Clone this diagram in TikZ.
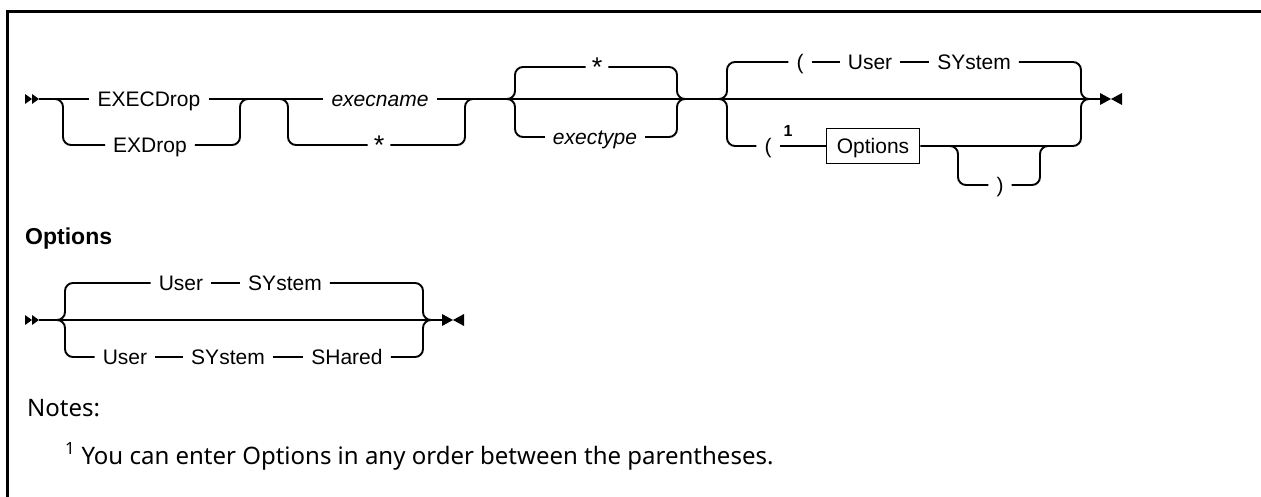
\documentclass[tikz,border=0pt]{standalone}
\usepackage{fontspec}
\setmainfont{Noto Sans}
\newfontfamily\railfont{Liberation Sans}
\usetikzlibrary{positioning}

\begin{document}
\begin{tikzpicture}[
	x=1pt, y=-1pt,
	rail/.style={draw=black, line width=1.9pt, rounded corners=8pt},
	lbl/.style={font=\railfont\fontsize{21}{25}\selectfont, inner xsep=8pt, inner ysep=0pt,
	            text height=15pt, text depth=0pt},
	var/.style={lbl, font=\railfont\itshape\fontsize{21}{25}\selectfont},
	starlbl/.style={lbl, font=\railfont\fontsize{27}{30}\selectfont, inner xsep=6pt, text height=19pt},
	refbox/.style={lbl, draw, line width=1.5pt, inner xsep=10.5pt, minimum height=35pt,
	               text height=19pt, text depth=4pt},
	sup/.style={font=\railfont\bfseries\fontsize{16}{18}\selectfont, inner sep=0pt, anchor=base},
	head/.style={font=\railfont\bfseries\fontsize{23}{28}\selectfont, inner sep=0pt, anchor=base west},
	note/.style={font=\fontsize{24}{29}\selectfont, inner sep=0pt, anchor=base west},
	frame/.style={draw=black, line width=3pt},
	railstart/.pic={\fill (-14,-5) -- (-7,0) -- (-14,5) -- cycle (-7,-5) -- (0,0) -- (-7,5) -- cycle;},
	railend/.pic={\fill (0,-6) -- (11,0) -- (0,6) -- cycle (22,-6) -- (11,0) -- (22,6) -- cycle;}
	]
	\useasboundingbox (0,0) rectangle (1261,497);
	\draw[frame] (7,499) -- (7,12) -- (1263,12);

	% EXECDrop
	\coordinate (s1) at (39,99);
	\pic at (s1) {railstart};
	\node[lbl] (execdrop) at (149,99) {EXECDrop};
	\node[lbl] (exdrop) at (150,145) {EXDrop};
	\node[var] (execname) at (380,99) {execname};
	\node[starlbl] (star2) at (379,145) {*};
	\node[starlbl] (star3) at (597,67) {*};
	\node[var] (exectype) at (595,137) {exectype};
	\node[lbl] (lpar1) at (800,62) {(};
	\node[lbl] (user1) at (870,62) {User};
	\node[lbl] (system1) at (974,62) {SYstem};
	\node[lbl] (lpar2) at (768,146) {(};
	\node[sup] (fn1) at (788,137) {1};
	\node[refbox] (optref) at (873,146) {Options};
	\node[lbl] (rpar) at (1000,185) {)};
	\coordinate (g1a) at (53,99);
	\coordinate (g1b) at (250,99);
	\coordinate (g2a) at (279,99);
	\coordinate (g2b) at (473,99);
	\coordinate (g3a) at (507,99);
	\coordinate (g3b) at (685,99);
	\coordinate (g4a) at (719,99);
	\coordinate (g4b) at (1089,99);
	\coordinate (k1) at (950,146);
	\coordinate (k2) at (1048,146);
	\coordinate (e1) at (1100,99);
	\pic at (e1) {railend};

	\draw[rail] (s1) -- (execdrop);
	\draw[rail] (execdrop) -- (execname);
	\draw[rail] (execname) -- (g3a) -- (g3b) -- (g4a) -- (g4b) -- (e1);
	\draw[rail] (g1a) -- ++(10,0) |- (exdrop);
	\draw[rail] (exdrop) -| ([xshift=-10pt]g1b) -- (g1b);
	\draw[rail] (g2a) -- ++(9,0) |- (star2);
	\draw[rail] (star2) -| ([xshift=-8pt]g2b) -- (g2b);
	\draw[rail] (g3a) -- ++(8,0) |- (star3);
	\draw[rail] (g3a) -- ++(8,0) |- (exectype);
	\draw[rail] (star3) -| ([xshift=-8pt]g3b) -- (g3b);
	\draw[rail] (exectype) -| ([xshift=-8pt]g3b) -- (g3b);
	\draw[rail] (g4a) -- ++(8,0) |- (lpar1);
	\draw[rail] (lpar1) -- (user1);
	\draw[rail] (user1) -- (system1);
	\draw[rail] (system1) -| ([xshift=-8pt]g4b) -- (g4b);
	\draw[rail] (g4a) -- ++(8,0) |- (lpar2);
	\draw[rail] (lpar2) -- (optref);
	\draw[rail] (optref) -| ([xshift=-8pt]g4b) -- (g4b);
	\draw[rail] (k1) -- ++(8,0) |- (rpar);
	\draw[rail] (rpar) -| ([xshift=-8pt]k2) -- (k2);

	% Options
	\node[head] (opthead) at (25,244) {Options};
	\coordinate (s2) at (39,320);
	\pic at (s2) {railstart};
	\coordinate (o1) at (57,320);
	\coordinate (o2) at (431,320);
	\node[lbl] (user2) at (181,283) {User};
	\node[lbl] (system2) at (285,283) {SYstem};
	\node[lbl] (user3) at (125,357) {User};
	\node[lbl] (system3) at (228,357) {SYstem};
	\node[lbl] (shared) at (347,357) {SHared};
	\coordinate (e2) at (442,320);
	\pic at (e2) {railend};

	\draw[rail] (s2) -- (o1) -- (o2) -- (e2);
	\draw[rail] (o1) -- ++(8,0) |- (user2);
	\draw[rail] (user2) -- (system2);
	\draw[rail] (system2) -| ([xshift=-8pt]o2) -- (o2);
	\draw[rail] (o1) -- ++(8,0) |- (user3);
	\draw[rail] (user3) -- (system3);
	\draw[rail] (system3) -- (shared);
	\draw[rail] (shared) -| ([xshift=-8pt]o2) -- (o2);

	\node[note] (notes) at (27,416) {Notes:};
	\node[note] (fnote) at (65,464) {\textsuperscript{1} You can enter Options in any order between the parentheses.};
\end{tikzpicture}
\end{document}
